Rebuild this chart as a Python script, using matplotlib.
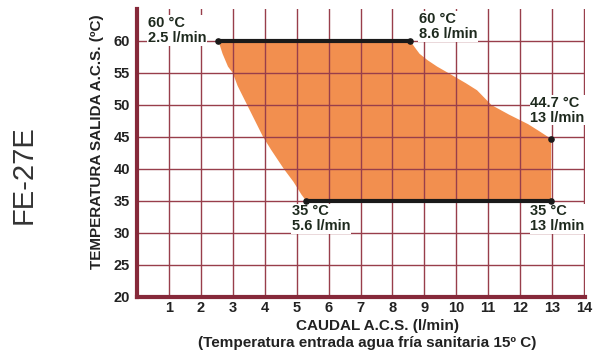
import matplotlib
matplotlib.use('Agg')
import matplotlib.pyplot as plt

plt.rcParams['font.family'] = ['Liberation Sans', 'DejaVu Sans']

# working area boundary
left_flow = [2.55, 2.68, 2.85, 3.0, 3.15, 3.45, 3.65, 3.95, 4.2, 4.6, 4.9, 5.15, 5.3]
left_temp = [60, 58, 56, 55, 53, 50, 48, 45, 43, 40, 38, 36, 35]
right_flow = [8.56, 8.7, 8.85, 9.1, 9.4, 9.75, 10.3, 10.65, 11.1, 11.65, 12.25, 12.6, 12.97]
right_temp = [60, 59, 58, 57, 56, 55, 53.4, 52.3, 50, 48.5, 47.0, 45.9, 44.7]

top_line = ([2.55, 8.56], [60, 60])
bottom_line = ([5.3, 12.97], [35, 35])
dots_flow = [2.55, 8.56, 12.97, 5.3, 12.97]
dots_temp = [60, 60, 44.7, 35, 35]

labels = ["60 °C\n2.5 l/min", "60 °C\n8.6 l/min", "44.7 °C\n13 l/min",
          "35 °C\n5.6 l/min", "35 °C\n13 l/min"]
label_x = [0.34, 8.82, 12.32, 4.86, 12.32]
label_y = [61.6, 62.3, 49.2, 32.2, 32.2]

xticks = list(range(1, 15))
yticks = list(range(20, 61, 5))

grid_col = '#983e4b'
spine_col = '#86293a'
text_col = '#1e2a1e'

fig = plt.figure(figsize=(5.93, 3.52), dpi=100)
ax = fig.add_axes([137 / 593, 1 - 297 / 352, 448 / 593, 288 / 352])

# orange area
poly_x = right_flow + [right_flow[-1], left_flow[-1]] + left_flow[::-1]
poly_y = right_temp + [35, 35] + left_temp[::-1]
ax.fill(poly_x, poly_y, color='#f28f4f', lw=0, zorder=1)

# grid drawn by hand so it sits over the fill
for x in xticks:
    ax.axvline(x, color=grid_col, lw=1, zorder=2)
for y in range(25, 61, 5):
    ax.axhline(y, color=grid_col, lw=1, zorder=2)

for t, x, y in zip(labels, label_x, label_y):
    ax.text(x, y, t, fontsize=10.5, fontweight='bold', color=text_col,
            ha='left', va='center', linespacing=1.1, zorder=3,
            bbox=dict(facecolor='white', edgecolor='none', pad=0.5))

ax.plot(*top_line, color='#1a1a1a', lw=3, zorder=4, solid_capstyle='round')
ax.plot(*bottom_line, color='#1a1a1a', lw=3, zorder=4, solid_capstyle='round')
ax.scatter(dots_flow, dots_temp, s=14, color='#1a1a1a', zorder=5)

ax.set_xlim(0, 14.03)
ax.set_ylim(20, 65)
ax.set_xticks(xticks)
ax.set_yticks(yticks)
ax.tick_params(length=0, labelsize=10.5, pad=3, labelcolor='#222222')
ax.tick_params(axis='y', pad=5)
for lab in ax.get_xticklabels() + ax.get_yticklabels():
    lab.set_fontweight('bold')

for s in ['top', 'right']:
    ax.spines[s].set_visible(False)
for s in ['left', 'bottom']:
    ax.spines[s].set_color(spine_col)
    ax.spines[s].set_linewidth(3)
    ax.spines[s].set_zorder(7)

fig.text(378 / 593, 1 - 326 / 352, 'CAUDAL A.C.S. (l/min)', fontsize=11,
         fontweight='bold', color='#222222', ha='center', va='center')
fig.text(367 / 593, 1 - 343 / 352, '(Temperatura entrada agua fría sanitaria 15º C)',
         fontsize=11, fontweight='bold', color='#222222', ha='center', va='center')
fig.text(97 / 593, 1 - 142 / 352, 'TEMPERATURA SALIDA A.C.S. (ºC)', fontsize=11,
         fontweight='bold', color='#222222', ha='center', va='center', rotation=90)
fig.text(24 / 593, 1 - 175 / 352, 'FE-27E', fontsize=21, color='#333333',
         ha='center', va='center', rotation=90)

fig.savefig('out.png', dpi=100)
